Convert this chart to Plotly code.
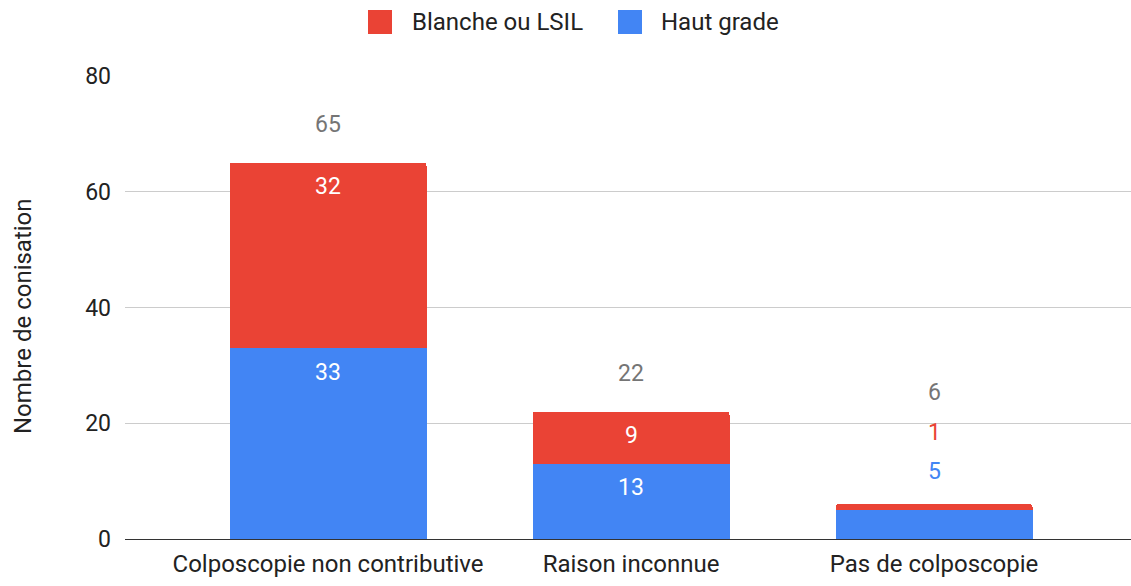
import plotly.graph_objects as go

CATEGORIES = ["Colposcopie non contributive", "Raison inconnue", "Pas de colposcopie"]
HAUT_GRADE = [33, 13, 5]
BLANCHE_LSIL = [32, 9, 1]
SERIES = [("Haut grade", HAUT_GRADE), ("Blanche ou LSIL", BLANCHE_LSIL)]
Y_TITLE = "Nombre de conisation"

BLUE = "#4285F4"
RED = "#EA4335"
GREY_TOTAL = "#757575"
TEXT = "#222222"
FONT = "Roboto, Arial, sans-serif"
TICK_SIZE = 23
LABEL_SIZE = 24
VALUE_SIZE = 23

# Fixed geometry so legend items can be placed in pixels
W, H = 1131, 586
M = {"l": 125, "r": 0, "t": 76, "b": 47}
PLOT_W = W - M["l"] - M["r"]
PLOT_H = H - M["t"] - M["b"]
Y_MAX = 80
PX_PER_UNIT = PLOT_H / Y_MAX


def px_x(px):
    return (px - M["l"]) / PLOT_W


def px_y(py):
    return (H - M["b"] - py) / PLOT_H


colors = {"Haut grade": BLUE, "Blanche ou LSIL": RED}

fig = go.Figure()
for name, values in SERIES:
    fig.add_trace(
        go.Bar(
            x=CATEGORIES,
            y=values,
            name=name,
            marker={"color": colors[name], "line": {"width": 0}},
            showlegend=False,
            hoverinfo="x+y+name",
        )
    )

# Value labels: inside the segment near its top, or stacked above the bar if too thin
for i, cat in enumerate(CATEGORIES):
    total = sum(values[i] for _, values in SERIES)
    base = 0
    outside_shift = 33
    for name, values in SERIES:
        v = values[i]
        top = base + v
        if v * PX_PER_UNIT >= 30:
            fig.add_annotation(
                x=cat, y=top, yshift=-24, text=str(v), showarrow=False,
                font={"color": "white", "size": VALUE_SIZE, "family": FONT},
            )
        else:
            fig.add_annotation(
                x=cat, y=total, yshift=outside_shift, text=str(v), showarrow=False,
                font={"color": colors[name], "size": VALUE_SIZE, "family": FONT},
            )
            outside_shift += 39
        base = top
    total_shift = outside_shift + 1 if outside_shift > 33 else 38
    fig.add_annotation(
        x=cat, y=total, yshift=total_shift, text=str(total), showarrow=False,
        font={"color": GREY_TOTAL, "size": VALUE_SIZE, "family": FONT},
    )

# Legend drawn by hand to get the large square swatches
legend_items = [("Blanche ou LSIL", RED, 368, 410), ("Haut grade", BLUE, 618, 659)]
for name, color, sq_x, text_x in legend_items:
    fig.add_shape(
        type="rect", xref="paper", yref="paper",
        x0=px_x(sq_x), x1=px_x(sq_x + 24), y0=px_y(34), y1=px_y(10),
        fillcolor=color, line={"width": 0},
    )
    fig.add_annotation(
        xref="paper", yref="paper", x=px_x(text_x), y=px_y(22),
        xanchor="left", yanchor="middle", text=name, showarrow=False,
        font={"color": TEXT, "size": LABEL_SIZE, "family": FONT},
    )

# Y axis title sits a little below the plot's middle, as in the original
fig.add_annotation(
    xref="paper", yref="paper", x=px_x(23), y=px_y(316),
    xanchor="center", yanchor="middle", textangle=-90, text=Y_TITLE,
    showarrow=False, font={"color": TEXT, "size": LABEL_SIZE, "family": FONT},
)

fig.update_layout(
    width=W,
    height=H,
    margin=M,
    barmode="stack",
    bargap=0.35,
    barcornerradius=3,
    plot_bgcolor="white",
    paper_bgcolor="white",
    font={"family": FONT, "color": TEXT, "size": TICK_SIZE},
)
fig.update_xaxes(
    range=[-0.67, 2.65],
    showgrid=False,
    showline=False,
    ticks="",
    ticklabelstandoff=8,
    tickfont={"size": LABEL_SIZE},
    automargin=False,
)
fig.update_yaxes(
    range=[0, Y_MAX],
    tickvals=[0, 20, 40, 60, 80],
    gridcolor="#cccccc",
    gridwidth=1,
    zeroline=True,
    zerolinecolor="#333333",
    zerolinewidth=1,
    showline=False,
    ticks="",
    ticklabelstandoff=13,
    tickfont={"size": TICK_SIZE},
    automargin=False,
)

# Drop the default page margin so the figure sits at the window origin
fig.write_html(
    "out.html",
    config={"displayModeBar": False},
    post_script="document.body.style.margin = '0';",
)
